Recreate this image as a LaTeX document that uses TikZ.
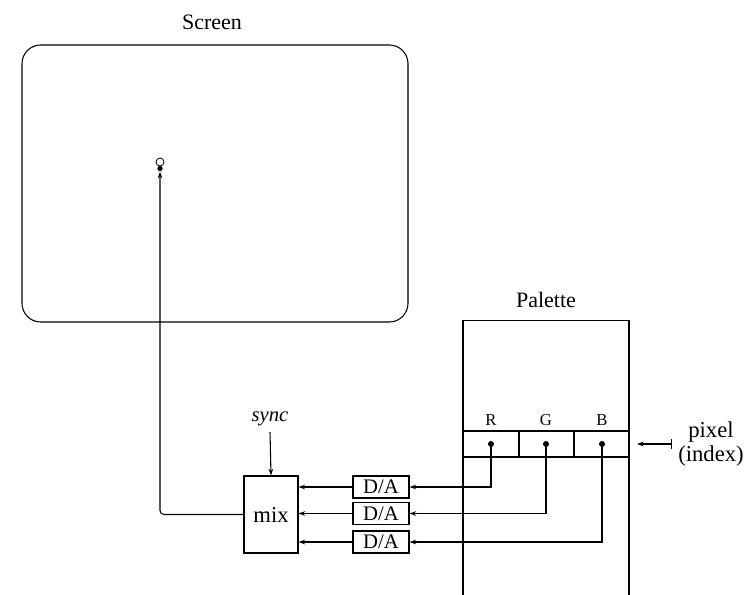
\documentclass[tikz,border=0pt]{standalone}
\usepackage{fontspec}
\setmainfont{Liberation Serif}
\usetikzlibrary{arrows.meta}
\begin{document}
\begin{tikzpicture}[x=0.75pt,y=-0.75pt,
  line width=0.8pt,
  box/.style={draw, inner sep=0pt, line width=0.8pt},
  lbl/.style={font=\fontsize{16.5}{18}\selectfont, inner sep=0pt},
  txt/.style={font=\fontsize{15.5}{17}\selectfont},
  arr/.style={-{Stealth[length=5pt,width=3.5pt]}},
  cell/.style={draw, minimum width=41.6pt, minimum height=19.5pt, inner sep=0pt},
  pdot/.style={circle, fill, inner sep=0pt, minimum size=4.5pt}]
\useasboundingbox (0,0) rectangle (748,594);
\clip (0,0) rectangle (748,594);
% Screen
\node[box, rounded corners=14pt, minimum width=289.5pt, minimum height=207.75pt] (screen) at (215,183.5) {};
\node[lbl] (screenlbl) at (212,22) {Screen};
\node[draw, circle, inner sep=0pt, minimum size=6pt, line width=0.6pt] (spot) at (160,162) {};
\node[pdot, minimum size=4pt] (beam) at (160,168.5) {};
% mix
\node[box, minimum width=40.5pt, minimum height=57.75pt, font=\fontsize{17}{19}\selectfont] (mix) at (271,514.5) {mix};
\node[font=\fontsize{15.5}{17}\selectfont\itshape, inner sep=0pt] (sync) at (270,419) {sync};
\coordinate (syncstart) at (270,432);
\draw[arr] (syncstart) -- (mix.north);
% D/A
\node[box, minimum width=42pt, minimum height=16.5pt, txt] (da1) at (381,487) {D/A};
\node[box, minimum width=42pt, minimum height=16.5pt, txt] (da2) at (381,513.5) {D/A};
\node[box, minimum width=42pt, minimum height=16.5pt, txt] (da3) at (381,542) {D/A};
\draw[arr] (da1.west) -- (da1.west -| mix.east);
\draw[arr] (da2.west) -- (da2.west -| mix.east);
\draw[arr] (da3.west) -- (da3.west -| mix.east);
% beam path
\draw[arr, rounded corners=3pt] (mix.west) -| (beam.south);
% Palette
\node[box, minimum width=124.5pt, minimum height=225pt, anchor=north] (palette) at (546,320) {};
\node[lbl] (palettelbl) at (546,300) {Palette};
\node[cell] (cR) at (490.5,444) {};
\node[cell] (cG) at (546,444) {};
\node[cell] (cB) at (601.5,444) {};
\draw[line width=1.6pt] (cR.north east) -- (cR.south east);
\draw[line width=1.6pt] (cG.north east) -- (cG.south east);
\node[font=\fontsize{12.5}{14}\selectfont, inner sep=0pt] (lR) at (491,420) {R};
\node[font=\fontsize{12.5}{14}\selectfont, inner sep=0pt] (lG) at (546,420) {G};
\node[font=\fontsize{12.5}{14}\selectfont, inner sep=0pt] (lB) at (602,420) {B};
\node[pdot] (dR) at (491,444) {};
\node[pdot] (dG) at (546,444) {};
\node[pdot] (dB) at (602,444) {};
\draw[arr] (dR.center) |- (da1.east);
\draw[arr] (dG.center) |- (da2.east);
\draw[arr] (dB.center) |- (da3.east);
% pixel index
\coordinate (pxstart) at (672,444);
\coordinate (pxend) at (637,444);
\draw[{Bar[width=8pt]}-{Stealth[length=5pt,width=3.5pt]}] (pxstart) -- (pxend);
\node[lbl, align=center, font=\fontsize{17}{18.5}\selectfont] (pixel) at (711,444) {pixel\\(index)};
\end{tikzpicture}
\end{document}
